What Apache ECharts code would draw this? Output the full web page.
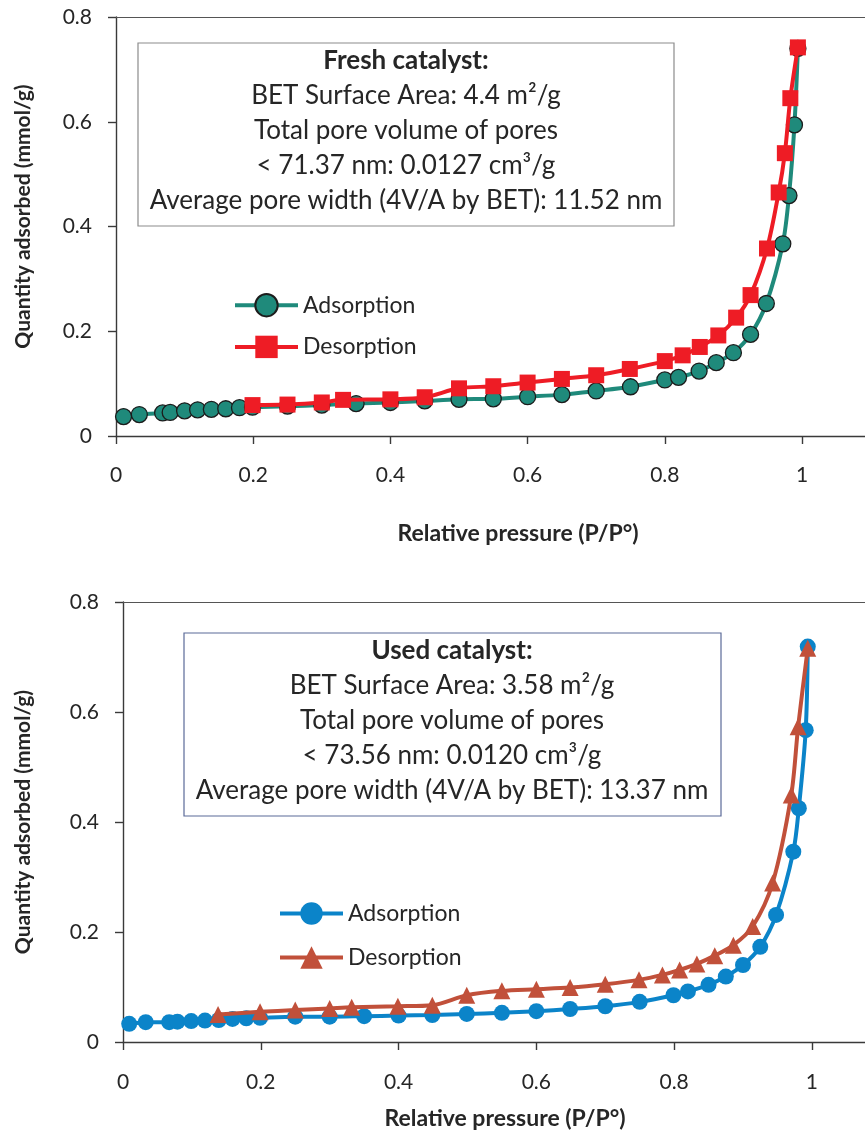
<!DOCTYPE html>
<html>
<head>
<meta charset="utf-8">
<script src="https://cdn.jsdelivr.net/npm/echarts@6/dist/echarts.min.js"></script>
<style>
  html, body { margin: 0; padding: 0; background: #ffffff; }
  #fresh { position: absolute; left: 0; top: 0; width: 865px; height: 565px; }
  #used { position: absolute; left: 0; top: 565px; width: 865px; height: 566px; }
</style>
</head>
<body>
<div id="fresh"></div>
<div id="used"></div>
<script>
// Fresh catalyst isotherm (relative pressure P/P°, quantity adsorbed mmol/g)
const freshAdsX = [0.011, 0.034, 0.068, 0.079, 0.100, 0.119, 0.139, 0.160, 0.180, 0.199, 0.250, 0.300, 0.350, 0.400, 0.450, 0.500, 0.550, 0.600, 0.650, 0.700, 0.750, 0.800, 0.820, 0.850, 0.875, 0.900, 0.925, 0.948, 0.972, 0.981, 0.989, 0.994];
const freshAdsY = [0.037, 0.041, 0.044, 0.045, 0.048, 0.050, 0.051, 0.052, 0.054, 0.055, 0.057, 0.059, 0.062, 0.064, 0.067, 0.070, 0.071, 0.075, 0.079, 0.086, 0.094, 0.107, 0.112, 0.124, 0.140, 0.159, 0.194, 0.253, 0.367, 0.459, 0.594, 0.740];
const freshDesX = [0.994, 0.983, 0.975, 0.966, 0.949, 0.925, 0.904, 0.878, 0.851, 0.826, 0.800, 0.749, 0.700, 0.650, 0.600, 0.550, 0.500, 0.450, 0.400, 0.331, 0.300, 0.250, 0.199];
const freshDesY = [0.742, 0.645, 0.540, 0.465, 0.358, 0.269, 0.226, 0.192, 0.170, 0.154, 0.143, 0.128, 0.116, 0.109, 0.102, 0.095, 0.091, 0.074, 0.070, 0.069, 0.064, 0.060, 0.059];

// Used catalyst isotherm
const usedAdsX = [0.009, 0.033, 0.067, 0.079, 0.099, 0.119, 0.139, 0.159, 0.179, 0.199, 0.250, 0.300, 0.350, 0.400, 0.449, 0.499, 0.550, 0.600, 0.649, 0.700, 0.750, 0.799, 0.820, 0.850, 0.875, 0.900, 0.925, 0.948, 0.973, 0.981, 0.991, 0.994];
const usedAdsY = [0.033, 0.036, 0.036, 0.037, 0.038, 0.039, 0.040, 0.042, 0.043, 0.044, 0.046, 0.046, 0.047, 0.048, 0.049, 0.051, 0.053, 0.056, 0.060, 0.065, 0.073, 0.085, 0.092, 0.104, 0.119, 0.140, 0.173, 0.231, 0.346, 0.425, 0.567, 0.719];
const usedDesX = [0.994, 0.980, 0.970, 0.943, 0.914, 0.886, 0.859, 0.833, 0.808, 0.783, 0.749, 0.700, 0.649, 0.600, 0.550, 0.499, 0.449, 0.399, 0.332, 0.300, 0.250, 0.199, 0.138];
const usedDesY = [0.716, 0.573, 0.449, 0.289, 0.210, 0.176, 0.157, 0.142, 0.131, 0.122, 0.113, 0.105, 0.099, 0.096, 0.093, 0.085, 0.067, 0.065, 0.063, 0.061, 0.058, 0.055, 0.050];

const seriesNames = ['Adsorption', 'Desorption'];
const xTicks = [0, 0.2, 0.4, 0.6, 0.8, 1];
const xTitle = 'Relative pressure (P/P°)';
const yTitle = 'Quantity adsorbed (mmol/g)';
const freshNotes = ['Fresh catalyst:', 'BET Surface Area: 4.4 m²/g', 'Total pore volume of pores', '< 71.37 nm: 0.0127 cm³/g', 'Average pore width (4V/A by BET): 11.52 nm'];
const usedNotes = ['Used catalyst:', 'BET Surface Area: 3.58 m²/g', 'Total pore volume of pores', '< 73.56 nm: 0.0120 cm³/g', 'Average pore width (4V/A by BET): 13.37 nm'];

const FONT = 'Lato, "Open Sans", sans-serif';
const AXIS_COLOR = '#3a3a3a';
const TEXT_COLOR = '#262626';

const pairs = (xs, ys) => xs.map((x, i) => [x, ys[i]]);
const onTick = v => xTicks.some(t => Math.abs(t - v) < 1e-9);

function noteBox(lines, box, centerX, firstLineY, borderColor) {
  const els = [{
    type: 'rect',
    shape: { x: box.x, y: box.y, width: box.w, height: box.h },
    style: { fill: '#ffffff', stroke: borderColor, lineWidth: 1.2 },
    z: 10
  }];
  lines.forEach((t, i) => {
    els.push({
      type: 'text',
      x: centerX,
      y: firstLineY + i * 35,
      style: {
        text: t,
        font: (i === 0 ? 'bold ' : '') + '26px ' + FONT,
        fill: TEXT_COLOR,
        textAlign: 'center',
        textVerticalAlign: 'middle'
      },
      z: 11
    });
  });
  return els;
}

function buildOption(cfg) {
  const axisBase = {
    type: 'value',
    axisLine: { show: true, lineStyle: { color: AXIS_COLOR, width: 1.4 } },
    axisTick: { show: true, inside: false, length: 8, lineStyle: { color: AXIS_COLOR, width: 1.4 } },
    splitLine: { show: false }
  };
  return {
    animation: false,
    backgroundColor: '#ffffff',
    grid: {
      left: cfg.grid.left, top: cfg.grid.top, width: cfg.grid.width, height: cfg.grid.height,
      containLabel: false, outerBoundsMode: 'none'
    },
    legend: {
      data: seriesNames,
      orient: 'vertical',
      left: cfg.legend.left,
      top: cfg.legend.top,
      padding: 0,
      itemWidth: 63,
      itemHeight: 28,
      itemGap: cfg.legend.gap,
      lineStyle: { width: 4 },
      textStyle: { fontFamily: FONT, fontSize: 23, color: TEXT_COLOR },
      selectedMode: false
    },
    xAxis: [
      Object.assign({}, axisBase, {
        min: 0, max: cfg.xMax, interval: 0.2,
        position: 'bottom',
        axisTick: Object.assign({}, axisBase.axisTick, { customValues: xTicks }),
        axisLabel: {
          margin: cfg.xLabelMargin, fontFamily: FONT, fontSize: 21, color: TEXT_COLOR,
          customValues: xTicks,
          formatter: v => (onTick(v) ? String(v) : '')
        },
        name: xTitle,
        nameLocation: 'middle',
        nameGap: cfg.xNameGap,
        nameTextStyle: { fontFamily: FONT, fontSize: 23, fontWeight: 'bold', color: TEXT_COLOR }
      }),
      {
        type: 'value', min: 0, max: cfg.xMax, position: 'top',
        axisLine: { show: true, lineStyle: { color: '#555555', width: 1.2 } },
        axisTick: { show: false }, axisLabel: { show: false }, splitLine: { show: false }
      }
    ],
    yAxis: Object.assign({}, axisBase, {
      min: 0, max: 0.8, interval: 0.2,
      axisLabel: { margin: 24, fontFamily: FONT, fontSize: 21, color: TEXT_COLOR },
      name: yTitle,
      nameLocation: 'middle',
      nameGap: cfg.yNameGap,
      nameTextStyle: { fontFamily: FONT, fontSize: 21, fontWeight: 'bold', color: TEXT_COLOR, padding: cfg.yNamePad }
    }),
    series: [
      {
        name: seriesNames[0], type: 'line', xAxisIndex: 0, yAxisIndex: 0,
        data: pairs(cfg.adsX, cfg.adsY),
        smooth: 0.3, showAllSymbol: true,
        symbol: 'circle', symbolSize: 16,
        lineStyle: { color: cfg.adsColor, width: 4 },
        itemStyle: Object.assign({ color: cfg.adsColor }, cfg.adsBorder),
        z: 3
      },
      {
        name: seriesNames[1], type: 'line', xAxisIndex: 0, yAxisIndex: 0,
        data: pairs(cfg.desX, cfg.desY),
        smooth: 0.3, showAllSymbol: true,
        symbol: cfg.desSymbol, symbolSize: cfg.desSize,
        lineStyle: { color: cfg.desColor, width: 4 },
        itemStyle: { color: cfg.desColor },
        z: 4
      }
    ],
    graphic: cfg.notes
  };
}

const freshChart = echarts.init(document.getElementById('fresh'), null, { renderer: 'canvas' });
freshChart.setOption(buildOption({
  grid: { left: 116, top: 17, width: 804, height: 419 },
  xMax: 1.172,
  xLabelMargin: 29,
  xNameGap: 86,
  yNameGap: 82,
  yNamePad: [0, 0, 0, 20],
  legend: { left: 233, top: 293, gap: 18 },
  adsX: freshAdsX, adsY: freshAdsY, desX: freshDesX, desY: freshDesY,
  adsColor: '#1f8a7b', adsBorder: { borderColor: '#1c1c1c', borderWidth: 1.3 },
  desColor: '#ee1c25', desSymbol: 'rect', desSize: 16,
  notes: noteBox(freshNotes, { x: 138, y: 43, w: 536, h: 183 }, 406, 61, '#8c8c8c')
}));

const usedChart = echarts.init(document.getElementById('used'), null, { renderer: 'canvas' });
usedChart.setOption(buildOption({
  grid: { left: 123, top: 37, width: 764, height: 440 },
  xMax: 1.109,
  xLabelMargin: 30,
  xNameGap: 65,
  yNameGap: 89,
  yNamePad: [0, 0, 0, 0],
  legend: { left: 278, top: 337, gap: 21 },
  adsX: usedAdsX, adsY: usedAdsY, desX: usedDesX, desY: usedDesY,
  adsColor: '#0b84c9', adsBorder: {},
  desColor: '#c1503a', desSymbol: 'triangle', desSize: 17,
  notes: noteBox(usedNotes, { x: 184, y: 68, w: 537, h: 183 }, 452, 86, '#5b6a98')
}));
</script>
</body>
</html>
